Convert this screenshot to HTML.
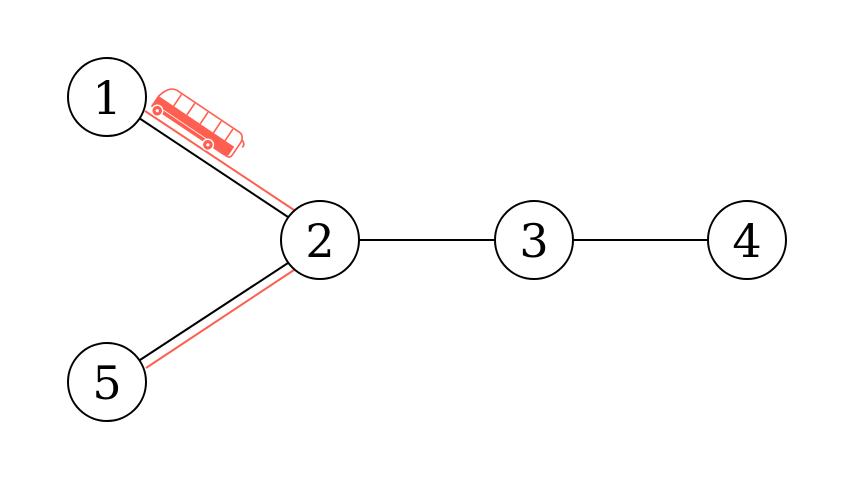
<!DOCTYPE html>
<html><head><style>body{margin:0;background:#fff}</style></head><body>
<svg width="854" height="480" viewBox="0 0 854 480" xmlns="http://www.w3.org/2000/svg">
<rect width="854" height="480" fill="#fff"/>
<g stroke-width="2">
<line x1="139" y1="118" x2="288" y2="217" stroke="#000"/>
<line x1="145" y1="111" x2="294" y2="210" stroke="#ff5f50"/>
<line x1="288" y1="263" x2="140" y2="360" stroke="#000"/>
<line x1="294" y1="270" x2="146" y2="368" stroke="#ff5f50"/>
<line x1="359" y1="240" x2="495" y2="240" stroke="#000"/>
<line x1="573" y1="240" x2="708" y2="240" stroke="#000"/>
</g>
<g transform="translate(152,106) rotate(33.9)" stroke="#ff5f50" fill="none" stroke-width="1.6">
<path d="M0,0 L0,-12 Q3,-26 12,-27 L88,-27 Q93,-26 94,-20 L94,-4 Q94,0 90,0 Z" fill="#fff"/>
<path d="M0,-12 L91,-12 L91,-2 Q90,1 86,1 L0,1 Z" fill="#ff5f50" stroke="none"/>
<line x1="18" y1="-26" x2="18" y2="-12"/><line x1="34" y1="-26" x2="34" y2="-12"/><line x1="50" y1="-26" x2="50" y2="-12"/><line x1="66" y1="-26" x2="66" y2="-12"/><line x1="80" y1="-26" x2="80" y2="-12"/>
<line x1="12" y1="-3" x2="66" y2="-3" stroke="#fff" stroke-width="0.8"/>
<path d="M94,-22 Q99,-20 98,-16"/>
<circle cx="7" cy="1" r="5.5" fill="#ff5f50" stroke="#fff" stroke-width="1.4"/>
<circle cx="7" cy="1" r="1.6" fill="#fff" stroke="none"/>
<circle cx="68" cy="1" r="5.5" fill="#ff5f50" stroke="#fff" stroke-width="1.4"/>
<circle cx="68" cy="1" r="1.6" fill="#fff" stroke="none"/>
</g>
<g fill="#fff" stroke="#000" stroke-width="2">
<circle cx="107" cy="97" r="39"/>
<circle cx="320" cy="240" r="39"/>
<circle cx="534" cy="240" r="39"/>
<circle cx="747" cy="240" r="39"/>
<circle cx="107" cy="382" r="39"/>
</g>
<g font-family="DejaVu Serif, Liberation Serif, serif" font-size="46" text-anchor="middle" fill="#000">
<text x="107" y="114">1</text>
<text x="320" y="257">2</text>
<text x="534" y="257">3</text>
<text x="747" y="257">4</text>
<text x="107" y="399">5</text>
</g>
</svg>
</body></html>
